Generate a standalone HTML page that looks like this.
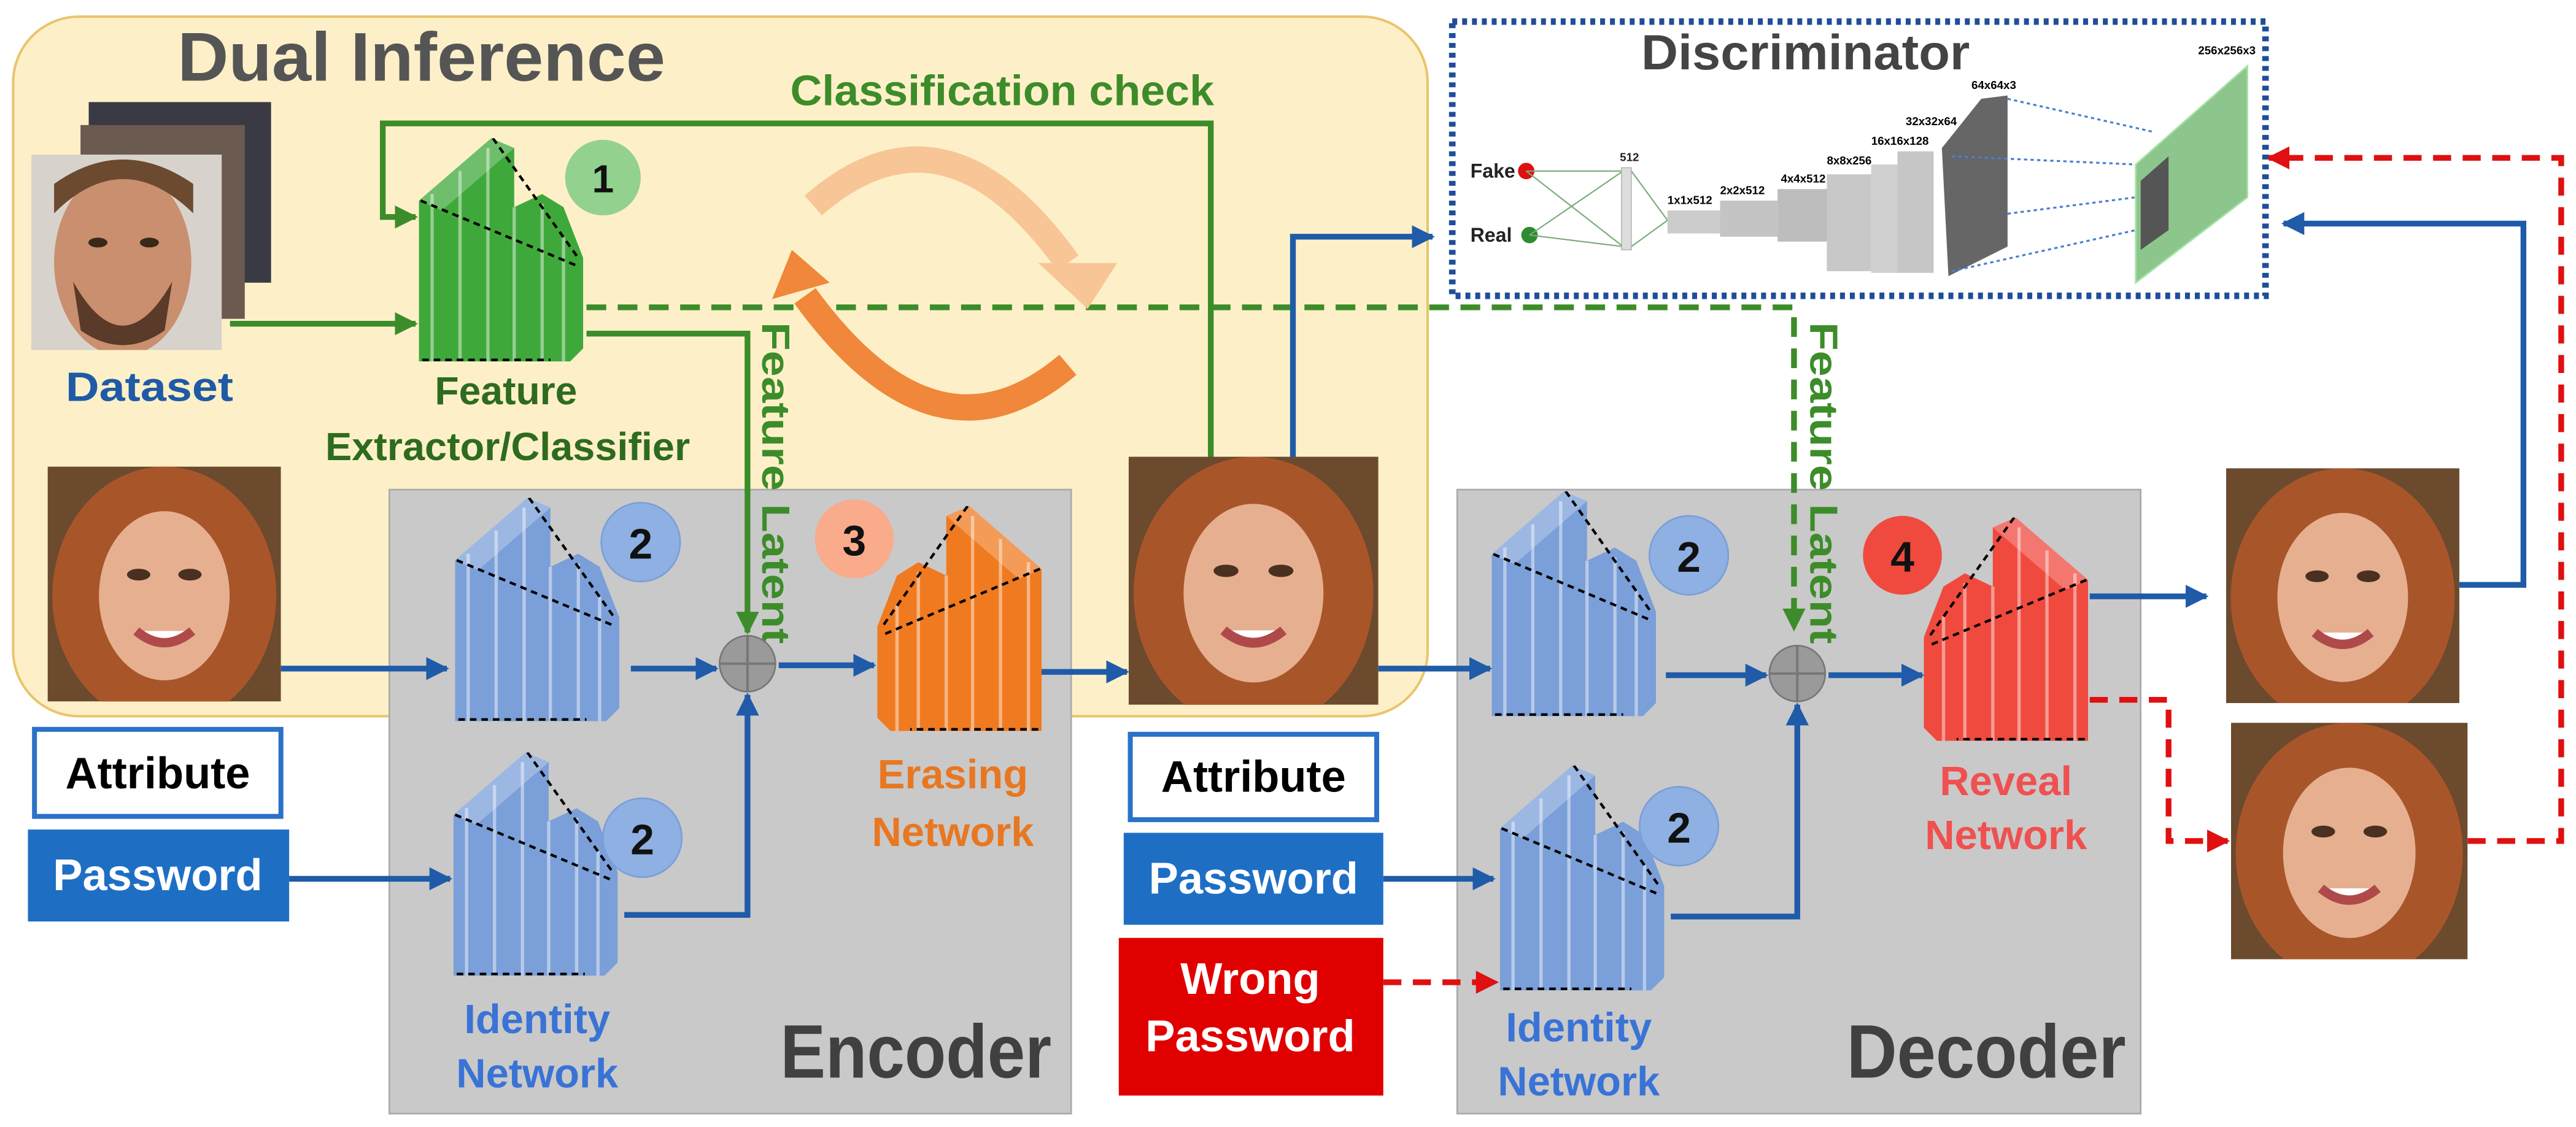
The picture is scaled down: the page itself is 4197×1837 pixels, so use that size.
<!DOCTYPE html>
<html><head><meta charset="utf-8"><style>
html,body{margin:0;padding:0;background:#fff;}
svg{display:block;}
text{font-family:"Liberation Sans",sans-serif;font-weight:bold;}
</style></head><body>
<svg width="4197" height="1837" viewBox="0 0 1568 686" xmlns="http://www.w3.org/2000/svg">
<defs>
<symbol id="net" viewBox="0 0 100 136" preserveAspectRatio="none">
 <polygon points="0,136 0,38 44,0 58,6 58,42 75,34 88,42 100,73 100,128 92,136" fill="currentColor"/>
 <polygon points="0,38 44,0 58,6 14,44" fill="#fff" opacity="0.25"/>
 <g stroke="#fff" stroke-opacity="0.45" stroke-width="2">
  <line x1="8" y1="34" x2="8" y2="136"/><line x1="25" y1="20" x2="25" y2="136"/><line x1="42" y1="6" x2="42" y2="136"/>
  <line x1="58" y1="42" x2="58" y2="136"/><line x1="75" y1="40" x2="75" y2="136"/><line x1="88" y1="60" x2="88" y2="136"/>
 </g>
 <g stroke="#000" stroke-width="1.6" stroke-dasharray="4,3" fill="none">
  <line x1="1" y1="38" x2="97" y2="78"/><line x1="45" y1="0" x2="97" y2="73"/><line x1="2" y1="135" x2="80" y2="135"/>
 </g>
</symbol>
<symbol id="face" viewBox="0 0 100 100" preserveAspectRatio="none">
 <rect width="100" height="100" fill="#6b4a2e"/>
 <ellipse cx="50" cy="55" rx="48" ry="55" fill="#a9552a"/>
 <ellipse cx="50" cy="55" rx="28" ry="36" fill="#e6b090"/>
 <ellipse cx="39" cy="46" rx="5" ry="2.5" fill="#4a3020"/><ellipse cx="61" cy="46" rx="5" ry="2.5" fill="#4a3020"/>
 <path d="M38,70 Q50,80 62,70" stroke="#b04a4a" stroke-width="4" fill="#fff"/>
</symbol>
<symbol id="man" viewBox="0 0 100 100" preserveAspectRatio="none">
 <rect width="100" height="100" fill="#d8d2cc"/>
 <ellipse cx="48" cy="55" rx="36" ry="48" fill="#c98f6e"/>
 <path d="M12,30 Q48,-5 85,30 L85,15 Q48,-10 12,15Z" fill="#6b4a30"/>
 <path d="M22,65 Q48,110 74,65 L70,90 Q48,105 26,90Z" fill="#5a3a28"/>
 <ellipse cx="35" cy="45" rx="5" ry="2.5" fill="#3a2818"/><ellipse cx="62" cy="45" rx="5" ry="2.5" fill="#3a2818"/>
</symbol>
<marker id="ab" viewBox="0 0 10 10" refX="9" refY="5" markerWidth="4" markerHeight="4" orient="auto"><path d="M0,0 L10,5 L0,10Z" fill="#1f5ba8"/></marker>
<marker id="ag" viewBox="0 0 10 10" refX="9" refY="5" markerWidth="4" markerHeight="4" orient="auto"><path d="M0,0 L10,5 L0,10Z" fill="#3d8c2a"/></marker>
<marker id="ar" viewBox="0 0 10 10" refX="9" refY="5" markerWidth="4" markerHeight="4" orient="auto"><path d="M0,0 L10,5 L0,10Z" fill="#e01010"/></marker>
</defs>

<!-- Dual inference box -->
<rect x="8" y="10" width="861" height="426" rx="40" fill="#fdf0c8" stroke="#e9c46a" stroke-width="1.5"/>
<text x="108" y="49" font-size="42" fill="#555" textLength="297" lengthAdjust="spacingAndGlyphs">Dual Inference</text>

<!-- Encoder / Decoder boxes -->
<rect x="237" y="298" width="415" height="380" fill="#c9c9c9" stroke="#aaa"/>
<rect x="887" y="298" width="416" height="380" fill="#c9c9c9" stroke="#aaa"/>
<text x="475" y="656" font-size="46" fill="#404040" textLength="165" lengthAdjust="spacingAndGlyphs">Encoder</text>
<text x="1124" y="656" font-size="46" fill="#404040" textLength="170" lengthAdjust="spacingAndGlyphs">Decoder</text>

<!-- Discriminator -->
<rect x="884" y="13" width="495" height="167" fill="#fff" stroke="#1f4e99" stroke-width="4" stroke-dasharray="3,3"/>
<text x="999" y="42" font-size="30" fill="#444" textLength="200" lengthAdjust="spacingAndGlyphs">Discriminator</text>
<text x="895" y="108" font-size="12" fill="#222">Fake</text><text x="895" y="147" font-size="12" fill="#222">Real</text>
<circle cx="929" cy="104" r="5" fill="#e01010"/><circle cx="931" cy="143" r="5" fill="#2e8b2e"/>
<g stroke="#7aaa7a" stroke-width="0.8"><line x1="929" y1="104" x2="988" y2="104"/><line x1="929" y1="104" x2="988" y2="150"/><line x1="931" y1="143" x2="988" y2="104"/><line x1="931" y1="143" x2="988" y2="150"/><line x1="993" y1="104" x2="1015" y2="134"/><line x1="993" y1="150" x2="1015" y2="134"/></g>
<rect x="987" y="102" width="6" height="50" fill="#ddd" stroke="#aaa" stroke-width="0.5"/>
<text x="986" y="98" font-size="7" fill="#222">512</text>
<rect x="1015" y="128" width="32" height="14" fill="#ccc"/><text x="1015" y="124" font-size="7">1x1x512</text>
<rect x="1047" y="122" width="35" height="22" fill="#c4c4c4"/><text x="1047" y="118" font-size="7">2x2x512</text>
<rect x="1082" y="115" width="32" height="32" fill="#bdbdbd"/><text x="1084" y="111" font-size="7">4x4x512</text>
<rect x="1112" y="106" width="27" height="59" fill="#c8c8c8"/><text x="1112" y="100" font-size="7">8x8x256</text>
<rect x="1139" y="100" width="16" height="66" fill="#d0d0d0"/>
<rect x="1155" y="92" width="22" height="74" fill="#c6c6c6"/><text x="1139" y="88" font-size="7">16x16x128</text>
<polygon points="1182,90 1206,60 1222,58 1222,150 1186,168" fill="#666"/><text x="1160" y="76" font-size="7">32x32x64</text>
<text x="1200" y="54" font-size="7">64x64x3</text>
<g stroke="#4a7fd0" stroke-width="1.2" stroke-dasharray="2,2"><line x1="1222" y1="60" x2="1310" y2="80"/><line x1="1188" y1="95" x2="1300" y2="100"/><line x1="1222" y1="130" x2="1300" y2="120"/><line x1="1188" y1="165" x2="1300" y2="140"/></g>
<polygon points="1300,100 1368,40 1368,120 1300,172" fill="#8cc68c" stroke="#a6e2a6"/>
<polygon points="1303,110 1320,95 1320,140 1303,152" fill="#555"/>
<text x="1338" y="33" font-size="7">256x256x3</text>

<!-- Dataset images -->
<rect x="54" y="62" width="111" height="110" fill="#3a3a44"/>
<rect x="49" y="76" width="100" height="118" fill="#6b5a50"/>
<use href="#man" x="19" y="94" width="116" height="119"/>
<text x="40" y="244" font-size="25" fill="#1f5aa6" textLength="102" lengthAdjust="spacingAndGlyphs">Dataset</text>

<!-- Green extractor -->
<use href="#net" x="255" y="84" width="100" height="136" style="color:#3fa83a"/>
<circle cx="367" cy="108" r="23" fill="#92d18e"/><text x="367" y="117" font-size="24" text-anchor="middle" fill="#111">1</text>
<text x="308" y="246" font-size="24" fill="#2e6b1f" text-anchor="middle">Feature</text>
<text x="198" y="280" font-size="24" fill="#2e6b1f" textLength="222" lengthAdjust="spacingAndGlyphs">Extractor/Classifier</text>
<text x="481" y="64" font-size="26" fill="#3d8c2a" textLength="258" lengthAdjust="spacingAndGlyphs">Classification check</text>

<!-- green connectors -->
<path d="M737,278 V75 H233 V132 H253" fill="none" stroke="#3d8c2a" stroke-width="3.5" marker-end="url(#ag)"/>
<path d="M140,197 H253" fill="none" stroke="#3d8c2a" stroke-width="3.5" marker-end="url(#ag)"/>
<path d="M357,203 H455 V385" fill="none" stroke="#3d8c2a" stroke-width="3.5" marker-end="url(#ag)"/>
<path d="M357,187 H1092 V383" fill="none" stroke="#3d8c2a" stroke-width="3.5" stroke-dasharray="12,7" marker-end="url(#ag)"/>
<text transform="translate(464,196) rotate(90)" font-size="24" fill="#3d8c2a" textLength="196" lengthAdjust="spacingAndGlyphs">Feature Latent</text>
<text transform="translate(1102,196) rotate(90)" font-size="24" fill="#3d8c2a" textLength="196" lengthAdjust="spacingAndGlyphs">Feature Latent</text>

<!-- orange cycle arrows -->
<path d="M495,125 Q575,55 650,160" fill="none" stroke="#f8c596" stroke-width="16"/>
<polygon points="632,160 680,160 662,188" fill="#f8c596"/>
<path d="M650,222 Q570,290 490,180" fill="none" stroke="#f0873a" stroke-width="16"/>
<polygon points="470,182 505,172 482,152" fill="#f0873a"/>

<!-- faces -->
<use href="#face" x="29" y="284" width="142" height="143"/>
<use href="#face" x="687" y="278" width="152" height="151"/>
<use href="#face" x="1355" y="285" width="142" height="143"/>
<use href="#face" x="1358" y="440" width="144" height="144"/>

<!-- Encoder nets -->
<use href="#net" x="277" y="303" width="100" height="136" style="color:#7b9fd8"/>
<use href="#net" x="276" y="458" width="100" height="136" style="color:#7b9fd8"/>
<use href="#net" transform="translate(634,308) scale(-1,1)" width="100" height="137" style="color:#f07a20"/>
<circle cx="390" cy="330" r="24" fill="#8fb0e3" stroke="#7a9fd8"/><text x="390" y="340" font-size="26" text-anchor="middle" fill="#111">2</text>
<circle cx="391" cy="510" r="24" fill="#8fb0e3" stroke="#7a9fd8"/><text x="391" y="520" font-size="26" text-anchor="middle" fill="#111">2</text>
<circle cx="520" cy="328" r="24" fill="#f9ab8c"/><text x="520" y="338" font-size="26" text-anchor="middle" fill="#111">3</text>
<circle cx="455" cy="404" r="17" fill="#9a9a9a" stroke="#777"/><path d="M438,404 H472 M455,387 V421" stroke="#777" stroke-width="1.5"/>
<text x="580" y="480" font-size="25" fill="#e87722" text-anchor="middle">Erasing</text>
<text x="580" y="515" font-size="25" fill="#e87722" text-anchor="middle">Network</text>
<text x="327" y="629" font-size="25" fill="#3a73d6" text-anchor="middle">Identity</text>
<text x="327" y="662" font-size="25" fill="#3a73d6" text-anchor="middle">Network</text>

<!-- Decoder nets -->
<use href="#net" x="908" y="299" width="100" height="137" style="color:#7b9fd8"/>
<use href="#net" x="913" y="466" width="100" height="137" style="color:#7b9fd8"/>
<use href="#net" transform="translate(1271,315) scale(-1,1)" width="100" height="136" style="color:#f04a3f"/>
<circle cx="1028" cy="338" r="24" fill="#8fb0e3" stroke="#7a9fd8"/><text x="1028" y="348" font-size="26" text-anchor="middle" fill="#111">2</text>
<circle cx="1022" cy="503" r="24" fill="#8fb0e3" stroke="#7a9fd8"/><text x="1022" y="513" font-size="26" text-anchor="middle" fill="#111">2</text>
<circle cx="1158" cy="338" r="24" fill="#f04a3f"/><text x="1158" y="348" font-size="26" text-anchor="middle" fill="#111">4</text>
<circle cx="1094" cy="410" r="17" fill="#9a9a9a" stroke="#777"/><path d="M1077,410 H1111 M1094,393 V427" stroke="#777" stroke-width="1.5"/>
<text x="1221" y="484" font-size="25" fill="#f05050" text-anchor="middle">Reveal</text>
<text x="1221" y="517" font-size="25" fill="#f05050" text-anchor="middle">Network</text>
<text x="961" y="634" font-size="25" fill="#3a73d6" text-anchor="middle">Identity</text>
<text x="961" y="667" font-size="25" fill="#3a73d6" text-anchor="middle">Network</text>

<!-- input boxes -->
<rect x="21" y="444" width="150" height="53" fill="#fff" stroke="#2a72c8" stroke-width="3"/>
<text x="96" y="480" font-size="27" text-anchor="middle" fill="#000">Attribute</text>
<rect x="17" y="505" width="159" height="56" fill="#1e6fc4"/>
<text x="96" y="542" font-size="27" text-anchor="middle" fill="#fff">Password</text>
<rect x="688" y="447" width="150" height="52" fill="#fff" stroke="#2a72c8" stroke-width="3"/>
<text x="763" y="482" font-size="27" text-anchor="middle" fill="#000">Attribute</text>
<rect x="684" y="507" width="158" height="56" fill="#1e6fc4"/>
<text x="763" y="544" font-size="27" text-anchor="middle" fill="#fff">Password</text>
<rect x="681" y="571" width="161" height="96" fill="#e00000"/>
<text x="761" y="605" font-size="27" text-anchor="middle" fill="#fff">Wrong</text>
<text x="761" y="640" font-size="27" text-anchor="middle" fill="#fff">Password</text>

<!-- blue connectors -->
<g fill="none" stroke="#1f5ba8" stroke-width="3.5" marker-end="url(#ab)">
<path d="M171,407 H272"/>
<path d="M176,535 H274"/>
<path d="M384,407 H436"/>
<path d="M380,557 H455 V423"/>
<path d="M474,405 H532"/>
<path d="M634,409 H686"/>
<path d="M787,278 V144 H872"/>
<path d="M839,407 H907"/>
<path d="M842,535 H909"/>
<path d="M1014,411 H1075"/>
<path d="M1017,558 H1094 V429"/>
<path d="M1113,411 H1170"/>
<path d="M1272,363 H1343"/>
<path d="M1497,356 H1536 V136 H1390"/>
</g>
<g fill="none" stroke="#e01010" stroke-width="3.5" stroke-dasharray="11,7" marker-end="url(#ar)">
<path d="M842,598 H911"/>
<path d="M1272,426 H1320 V512 H1356"/>
<path d="M1502,512 H1559 V96 H1381"/>
</g>
</svg>
</body></html>
